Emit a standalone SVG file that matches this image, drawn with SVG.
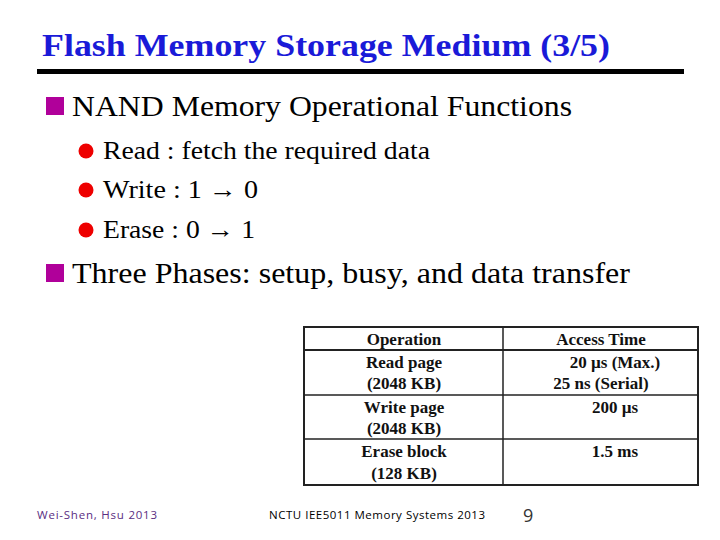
<svg xmlns="http://www.w3.org/2000/svg" width="720" height="540" viewBox="0 0 720 540">
<style>
.t{font-family:"Liberation Serif",serif;fill:#000}
.c{font-family:"Liberation Serif",serif;font-size:17px;font-weight:bold;fill:#111;text-anchor:middle}
.g{stroke:#222;fill:none}
</style>
<rect width="720" height="540" fill="#fff"/>
<text x="42" y="56" font-family="Liberation Serif,serif" font-weight="bold" font-size="32" fill="#1a1ad8" textLength="568" lengthAdjust="spacingAndGlyphs">Flash Memory Storage Medium (3/5)</text>
<rect x="37" y="69" width="647" height="5" fill="#000"/>
<rect x="46" y="97" width="18" height="18" fill="#b0009a"/>
<text class="t" x="72" y="116" font-size="29" textLength="500" lengthAdjust="spacingAndGlyphs">NAND Memory Operational Functions</text>
<circle cx="86" cy="151" r="7.5" fill="#e00"/>
<text class="t" x="103" y="159" font-size="25" textLength="327" lengthAdjust="spacingAndGlyphs">Read : fetch the required data</text>
<circle cx="86" cy="190" r="7.5" fill="#e00"/>
<text class="t" x="103" y="198" font-size="25" textLength="155" lengthAdjust="spacingAndGlyphs">Write : 1 → 0</text>
<circle cx="86" cy="230" r="7.5" fill="#e00"/>
<text class="t" x="103" y="238" font-size="25" textLength="152" lengthAdjust="spacingAndGlyphs">Erase : 0 → 1</text>
<rect x="46" y="264" width="18" height="18" fill="#b0009a"/>
<text class="t" x="72" y="283" font-size="29" textLength="558" lengthAdjust="spacingAndGlyphs">Three Phases: setup, busy, and data transfer</text>
<g id="table">
<rect class="g" x="304" y="327" width="394" height="158" stroke-width="2"/>
<line class="g" x1="304" y1="350" x2="698" y2="350" stroke-width="2"/>
<line class="g" x1="304" y1="395" x2="698" y2="395" stroke-width="1.5"/>
<line class="g" x1="304" y1="439" x2="698" y2="439" stroke-width="1.5"/>
<line class="g" x1="503" y1="327" x2="503" y2="485" stroke-width="1.5"/>
<text class="c" x="404" y="345">Operation</text>
<text class="c" x="601" y="345">Access Time</text>
<text class="c" x="404" y="368">Read page</text>
<text class="c" x="404" y="389">(2048 KB)</text>
<text class="c" x="615" y="368">20 µs (Max.)</text>
<text class="c" x="601" y="389">25 ns (Serial)</text>
<text class="c" x="404" y="413">Write page</text>
<text class="c" x="404" y="434">(2048 KB)</text>
<text class="c" x="615" y="413">200 µs</text>
<text class="c" x="404" y="457">Erase block</text>
<text class="c" x="404" y="479">(128 KB)</text>
<text class="c" x="615" y="457">1.5 ms</text>
</g>
<text x="37" y="519" font-family="Open Sans,sans-serif" font-size="11.5" fill="#5a2d82" textLength="120">Wei-Shen, Hsu  2013</text>
<text x="269" y="519" font-family="Open Sans,sans-serif" font-size="11.5" fill="#000" textLength="216">NCTU IEE5011 Memory Systems 2013</text>
<text x="523" y="522" font-family="Open Sans,sans-serif" font-size="18" fill="#333">9</text>
</svg>
